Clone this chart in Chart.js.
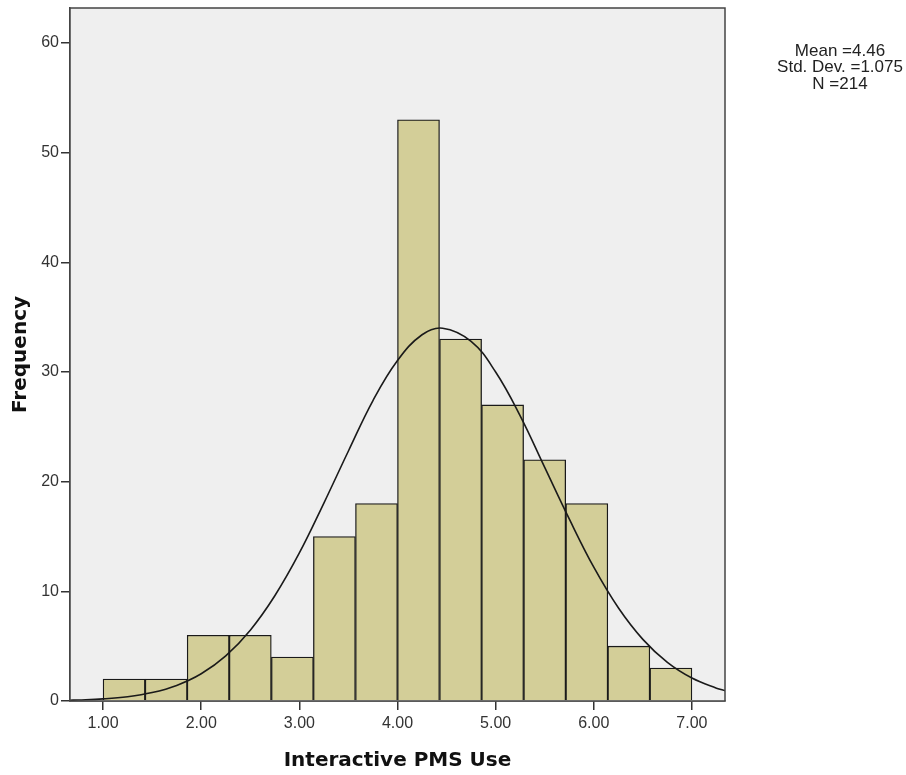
<!DOCTYPE html>
<html>
<head>
<meta charset="utf-8">
<script src="https://cdn.jsdelivr.net/npm/chart.js@4"></script>
<style>
  body { margin: 0; background: #fff; }
  #wrap { width: 906px; height: 775px; }
</style>
</head>
<body>
<div id="wrap"><canvas id="chart"></canvas></div>
<script>
// histogram bins (centres) and counts
const binCenters = [1.214, 1.643, 2.071, 2.500, 2.929, 3.357, 3.786, 4.214, 4.643, 5.071, 5.500, 5.929, 6.357, 6.786];
const counts = [2, 2, 6, 6, 4, 15, 18, 53, 33, 27, 22, 18, 5, 3];

// normal curve
const curveX = [0.66, 0.75, 1.0, 1.25, 1.5, 1.75, 2.0, 2.25, 2.5, 2.75, 3.0, 3.25, 3.5, 3.75, 4.0, 4.25, 4.46, 4.75, 5.0, 5.25, 5.5, 5.75, 6.0, 6.25, 6.5, 6.75, 7.0, 7.25, 7.34];
const curveY = [0.07, 0.09, 0.19, 0.39, 0.77, 1.42, 2.48, 4.11, 6.46, 9.6, 13.5, 18.05, 22.8, 27.4, 31.05, 33.4, 34.0, 32.8, 30.0, 26.0, 21.3, 16.6, 12.2, 8.5, 5.62, 3.52, 2.09, 1.17, 0.94];

const xTicks = [1, 2, 3, 4, 5, 6, 7];
const yTicks = [0, 10, 20, 30, 40, 50, 60];
const statsLines = ['Mean =4.46', 'Std. Dev. =1.075', 'N =214'];

const plotFrame = {
    id: 'plotFrame',
    beforeDatasetsDraw(chart) {
        const {ctx, chartArea: a} = chart;
        ctx.save();
        ctx.fillStyle = '#efefef';
        ctx.fillRect(a.left, a.top, a.right - a.left, a.bottom - a.top);
        ctx.restore();
    },
    afterDraw(chart) {
        const {ctx, chartArea: a} = chart;
        ctx.save();
        ctx.strokeStyle = '#444';
        ctx.lineWidth = 1.5;
        ctx.strokeRect(a.left, a.top, a.right - a.left, a.bottom - a.top);
        ctx.fillStyle = '#222';
        ctx.font = '17px "Liberation Sans", Arial, sans-serif';
        ctx.textAlign = 'center';
        ctx.textBaseline = 'middle';
        statsLines.forEach((t, i) => ctx.fillText(t, 840, 51 + i * 16.5));
        ctx.restore();
    }
};

const tickFont = {family: '"Liberation Sans", Arial, sans-serif', size: 16, lineHeight: 1};
const yTickFont = {family: '"Liberation Sans", Arial, sans-serif', size: 16, lineHeight: 0.75};
const titleFont = {family: '"DejaVu Sans", Verdana, sans-serif', size: 20, weight: 'bold'};

let ctx = document.getElementById('chart');
let chart = new Chart(ctx, {
    type: 'bar',
    data: {
        datasets: [{
            type: 'line',
            data: curveX.map((x, i) => ({x: x, y: curveY[i]})),
            borderColor: '#1a1a1a',
            borderWidth: 1.6,
            pointRadius: 0,
            tension: 0.4,
            fill: false,
        }, {
            type: 'bar',
            data: binCenters.map((x, i) => ({x: x, y: counts[i]})),
            backgroundColor: '#d3ce98',
            borderColor: '#1a1a1a',
            borderWidth: 1.3,
            barPercentage: 1,
            categoryPercentage: 1,
            grouped: false,
        }]
    },
    options: {
        responsive: true,
        maintainAspectRatio: false,
        animation: false,
        layout: {padding: {top: 0, right: 181, left: 0, bottom: 0}},
        plugins: {
            legend: {display: false},
            tooltip: {enabled: false},
        },
        scales: {
            x: {
                type: 'linear',
                min: 0.663,
                max: 7.337,
                offset: false,
                afterBuildTicks: s => { s.ticks = xTicks.map(v => ({value: v})); },
                afterFit: s => { s.height = 74; },
                ticks: {
                    color: '#333',
                    font: tickFont,
                    padding: 6,
                    maxRotation: 0,
                    callback: v => Number(v).toFixed(2),
                },
                grid: {display: true, drawOnChartArea: false, tickLength: 9, color: '#333', lineWidth: 1.5, offset: false},
                border: {display: true, color: '#444', width: 1.5},
                title: {display: true, text: 'Interactive PMS Use', color: '#111', font: titleFont, padding: {top: 2, bottom: 2}},
            },
            y: {
                min: 0,
                max: 63.2,
                afterBuildTicks: s => { s.ticks = yTicks.map(v => ({value: v})); },
                afterFit: s => { s.width = 70; },
                ticks: {color: '#333', font: yTickFont, padding: 2},
                grid: {display: true, drawOnChartArea: false, tickLength: 9, color: '#333', lineWidth: 1.5},
                border: {display: true, color: '#444', width: 1.5},
                title: {display: true, text: 'Frequency', color: '#111', font: titleFont, padding: {top: 9, bottom: 0}},
            }
        }
    },
    plugins: [plotFrame]
});
</script>
</body>
</html>
